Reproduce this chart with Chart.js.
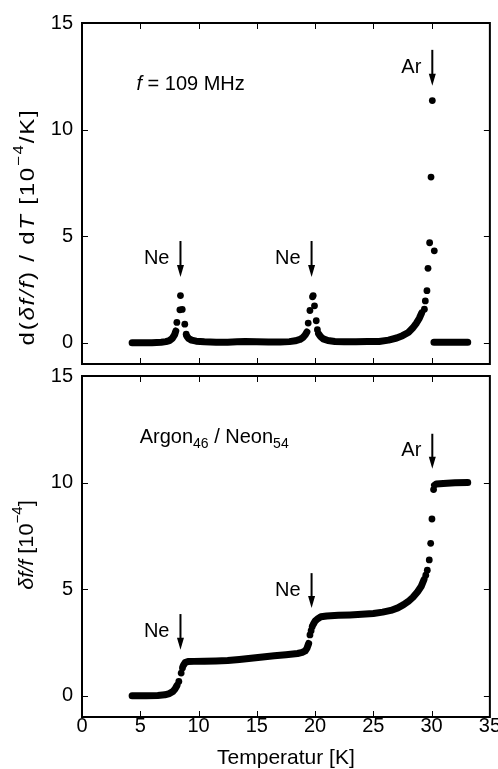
<!DOCTYPE html>
<html><head><meta charset="utf-8">
<script src="https://cdn.jsdelivr.net/npm/chart.js@4"></script>
<style>
html,body{margin:0;padding:0;background:#fff;}
#wrap{position:relative;width:498px;height:769px;overflow:hidden;background:#fff;}
canvas{position:absolute;left:0;}
</style>
</head><body>
<div id="wrap">
<canvas id="cTop" width="498" height="414" style="top:0px"></canvas>
<canvas id="cBot" width="498" height="414" style="top:355px"></canvas>
</div>
<script>
// ---------- DATA ----------
const xTicks = [0, 5, 10, 15, 20, 25, 30, 35];
const yTicks = [0, 5, 10, 15];

// top panel: d(δf/f)/dT, dense part of the measurement (null = break)
const topCurveT = [4.3, 5.0, 6.0, 6.8, 7.2, 7.5, 7.75, 7.95, 8.05, 8.5, 9.0, 9.15, 9.4, 9.8, 10.5, 11.5, 12.5, 13.3, 14.0, 15.0, 16.0, 17.0, 17.8, 18.3, 18.7, 18.95, 19.15, 19.3, 19.7, 20.3, 20.45, 20.7, 21.1, 21.7, 22.5, 23.5, 24.5, 25.5, 26.3, 27.0, 27.5, 28.0, 28.4, 28.7, 28.95, 29.15, 29.7, 30.2, 31.0, 32.0, 33.1];
const topCurveV = [0, 0, 0, 0.02, 0.05, 0.1, 0.2, 0.38, 0.55, null, 0.3, 0.2, 0.12, 0.07, 0.04, 0.02, 0.02, 0.04, 0.06, 0.04, 0.03, 0.03, 0.05, 0.09, 0.15, 0.24, 0.36, 0.5, null, 0.42, 0.3, 0.18, 0.1, 0.06, 0.04, 0.04, 0.05, 0.06, 0.12, 0.22, 0.33, 0.48, 0.7, 0.92, 1.15, 1.4, null, 0.02, 0.02, 0.02, 0.02];
// top panel: isolated points
const topDotsT = [8.14, 8.4, 8.6, 8.45, 8.82, 8.94, 19.41, 19.56, 19.78, 19.84, 19.95, 20.1, 20.2, 29.38, 29.46, 29.6, 29.69, 29.83, 30.23, 29.95, 30.06];
const topDotsV = [0.95, 1.54, 1.56, 2.21, 0.87, 0.4, 0.92, 1.51, 2.15, 2.21, 1.73, 1.03, 0.61, 1.57, 1.96, 2.44, 3.49, 4.69, 4.31, 7.77, 11.36];

// bottom panel: δf/f, dense part
const botCurveT = [4.3, 5.5, 6.5, 7.1, 7.5, 7.8, 8.0, 8.15, 8.4, 8.7, 8.85, 9.1, 9.6, 10.5, 11.5, 12.5, 13.5, 14.5, 15.5, 16.5, 17.5, 18.5, 18.9, 19.15, 19.3, 19.45, 19.7, 19.85, 20.0, 20.2, 20.5, 21.0, 22.0, 23.0, 24.0, 25.0, 25.8, 26.5, 27.1, 27.6, 28.0, 28.4, 28.8, 29.1, 29.35, 29.8, 30.25, 30.4, 31.0, 32.0, 33.1];
const botCurveV = [0, 0, 0.01, 0.04, 0.1, 0.2, 0.33, 0.48, null, 1.42, 1.55, 1.6, 1.61, 1.62, 1.63, 1.65, 1.7, 1.76, 1.82, 1.87, 1.92, 1.98, 2.03, 2.1, 2.22, 2.45, null, 3.35, 3.5, 3.6, 3.7, 3.74, 3.77, 3.79, 3.82, 3.86, 3.92, 4.0, 4.12, 4.27, 4.42, 4.62, 4.88, 5.12, 5.45, null, 9.88, 9.93, 9.96, 9.99, 10.0];
const botDotsT = [8.31, 8.51, 8.62, 19.56, 19.66, 19.75, 29.5, 29.63, 29.8, 29.92, 30.03, 30.17];
const botDotsV = [0.67, 1.06, 1.3, 2.85, 3.05, 3.24, 5.65, 5.89, 6.37, 7.15, 8.29, 9.67];

// arrow annotations (data units)
const topArrowLabels = ['Ne', 'Ne', 'Ar'];
const topArrowX = [8.45, 19.7, 30.06];
const topArrowFrom = [4.77, 4.77, 13.74];
const topArrowTo = [3.08, 3.08, 12.06];
const botArrowLabels = ['Ne', 'Ne', 'Ar'];
const botArrowX = [8.45, 19.7, 30.06];
const botArrowFrom = [3.83, 5.75, 12.29];
const botArrowTo = [2.15, 4.11, 10.65];

const FONT = "'Liberation Sans', Arial, Helvetica, sans-serif";
const FS = 20;

function pts(T, V) { return T.map((t, i) => ({x: t, y: V[i]})); }

function richText(ctx, parts, x, y, align) {
  const fontFor = s => s === 'i' ? `italic ${FS}px ${FONT}` : (s === 'sup' || s === 'sub') ? `${Math.round(FS*0.68)}px ${FONT}` : `${FS}px ${FONT}`;
  let total = 0;
  parts.forEach(p => { ctx.font = fontFor(p[1]); total += ctx.measureText(p[0]).width; });
  let cx = align === 'center' ? x - total / 2 : (align === 'right' ? x - total : x);
  ctx.textAlign = 'left';
  parts.forEach(p => {
    ctx.font = fontFor(p[1]);
    const dy = p[1] === 'sup' ? -FS * 0.42 : (p[1] === 'sub' ? FS * 0.25 : 0);
    ctx.fillText(p[0], cx, y + dy);
    cx += ctx.measureText(p[0]).width;
  });
}

function decoPlugin(cfg) {
  return {
    id: 'deco',
    afterDatasetsDraw(chart) {
      const ctx = chart.ctx, a = chart.chartArea;
      const xs = chart.scales.x, ys = chart.scales.y;
      ctx.save();
      ctx.strokeStyle = '#000';
      ctx.fillStyle = '#000';
      ctx.lineWidth = 1;
      ctx.beginPath();
      xTicks.forEach(v => {
        const px = Math.round(xs.getPixelForValue(v)) + 0.5;
        if (px <= a.left + 2 || px >= a.right - 2) return;
        ctx.moveTo(px, a.top); ctx.lineTo(px, a.top + 6);
        ctx.moveTo(px, a.bottom); ctx.lineTo(px, a.bottom - 6);
      });
      yTicks.forEach(v => {
        const py = Math.round(ys.getPixelForValue(v)) + 0.5;
        if (py <= a.top + 2 || py >= a.bottom - 2) return;
        ctx.moveTo(a.left, py); ctx.lineTo(a.left + 6, py);
        ctx.moveTo(a.right, py); ctx.lineTo(a.right - 6, py);
      });
      ctx.stroke();
      ctx.lineWidth = 2;
      ctx.strokeRect(a.left, a.top, a.right - a.left, a.bottom - a.top);
      cfg.labels.forEach((lab, i) => {
        const px = xs.getPixelForValue(cfg.ax[i]);
        const y1 = ys.getPixelForValue(cfg.from[i]);
        const y2 = ys.getPixelForValue(cfg.to[i]);
        ctx.lineWidth = 2;
        ctx.beginPath(); ctx.moveTo(px, y1); ctx.lineTo(px, y2 - 8); ctx.stroke();
        ctx.beginPath();
        ctx.moveTo(px - 3.5, y2 - 12); ctx.lineTo(px + 3.5, y2 - 12); ctx.lineTo(px, y2); ctx.closePath(); ctx.fill();
        ctx.font = `${FS}px ${FONT}`;
        ctx.textAlign = 'right'; ctx.textBaseline = 'alphabetic';
        ctx.fillText(lab, px - 11, (y1 + y2) / 2 + 5);
      });
      ctx.textBaseline = 'alphabetic';
      if (cfg.note) richText(ctx, cfg.note.parts, xs.getPixelForValue(cfg.note.x), ys.getPixelForValue(cfg.note.y), 'left');
      ctx.save();
      ctx.translate(cfg.ytitle.x, cfg.ytitle.y);
      ctx.rotate(-Math.PI / 2);
      ctx.scale(cfg.ytitle.stretch, 1);
      ctx.letterSpacing = cfg.ytitle.spacing;
      ctx.textBaseline = 'middle';
      richText(ctx, cfg.ytitle.parts, 0, 0, 'center');
      ctx.restore();
      ctx.restore();
    }
  };
}

function makeChart(id, curveT, curveV, dotsT, dotsV, isBottom, cfg, canvasH, padTop, areaBottom) {
  const tickFont = {family: FONT, size: FS};
  return new Chart(document.getElementById(id), {
    type: 'scatter',
    data: {
      datasets: [
        {data: pts(curveT, curveV), showLine: true, borderColor: '#000', borderWidth: 7,
         borderCapStyle: 'round', borderJoinStyle: 'round', pointRadius: 0, spanGaps: false, tension: 0},
        {data: pts(dotsT, dotsV), backgroundColor: '#000', borderWidth: 0, pointRadius: 3.4}
      ]
    },
    options: {
      responsive: false, maintainAspectRatio: false, animation: false, devicePixelRatio: 1,
      layout: {autoPadding: false, padding: {top: padTop, right: 6, left: 0, bottom: 0}},
      plugins: {legend: {display: false}, tooltip: {enabled: false}},
      scales: {
        x: {
          type: 'linear', min: 0, max: 35,
          afterBuildTicks: s => { s.ticks = xTicks.map(v => ({value: v})); },
          ticks: {display: true, font: tickFont, color: isBottom ? '#000' : 'rgba(0,0,0,0)', padding: -3, maxRotation: 0},
          grid: {display: false, drawTicks: false}, border: {display: false},
          title: {display: true, text: 'Temperatur [K]', font: {family: FONT, size: 21}, color: isBottom ? '#000' : 'rgba(0,0,0,0)', padding: {top: 0, bottom: -2}},
          afterFit: s => { s.height = canvasH - areaBottom; }
        },
        y: {
          type: 'linear', min: -1, max: 15,
          afterBuildTicks: s => { s.ticks = yTicks.map(v => ({value: v})); },
          ticks: {font: tickFont, color: '#000', padding: 9},
          grid: {display: false, drawTicks: false}, border: {display: false},
          afterFit: s => { s.width = 82; }
        }
      }
    },
    plugins: [decoPlugin(cfg)]
  });
}

makeChart('cTop', topCurveT, topCurveV, topDotsT, topDotsV, false, {
  labels: topArrowLabels, ax: topArrowX, from: topArrowFrom, to: topArrowTo,
  note: {x: 4.67, y: 11.87, parts: [['f', 'i'], [' = 109 MHz', 'n']]},
  ytitle: {x: 28, y: 227, stretch: 1.2, spacing: '1.5px', parts: [['d(', 'n'], ['δf/f', 'i'], [') / d', 'n'], ['T', 'i'], [' [10', 'n'], ['−4', 'sup'], ['/K]', 'n']]}
}, 414, 23, 364);

makeChart('cBot', botCurveT, botCurveV, botDotsT, botDotsV, true, {
  labels: botArrowLabels, ax: botArrowX, from: botArrowFrom, to: botArrowTo,
  note: {x: 4.95, y: 11.87, parts: [['Argon', 'n'], ['46', 'sub'], [' / ', 'n'], ['Neon', 'n'], ['54', 'sub']]},
  ytitle: {x: 27, y: 545 - 355, stretch: 1.08, spacing: '0px', parts: [['δf/f', 'i'], [' [10', 'n'], ['−4', 'sup'], [']', 'n']]}
}, 414, 20, 362);
</script>
</body></html>
